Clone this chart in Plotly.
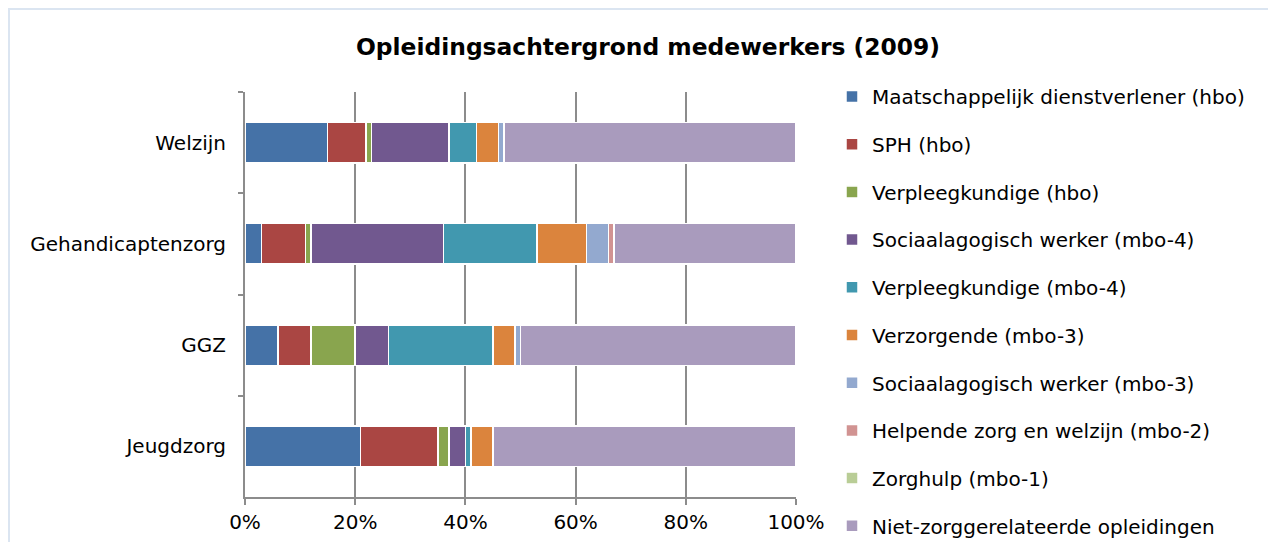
import plotly.graph_objects as go

categories = ["Welzijn", "Gehandicaptenzorg", "GGZ", "Jeugdzorg"]

series_names = [
    "Maatschappelijk dienstverlener (hbo)",
    "SPH (hbo)",
    "Verpleegkundige (hbo)",
    "Sociaalagogisch werker (mbo-4)",
    "Verpleegkundige (mbo-4)",
    "Verzorgende (mbo-3)",
    "Sociaalagogisch werker (mbo-3)",
    "Helpende zorg en welzijn (mbo-2)",
    "Zorghulp (mbo-1)",
    "Niet-zorggerelateerde opleidingen",
]

# percentages per category (Welzijn, Gehandicaptenzorg, GGZ, Jeugdzorg)
maatschappelijk = [15, 3, 6, 21]
sph = [7, 8, 6, 14]
verpleeg_hbo = [1, 1, 8, 2]
saw_mbo4 = [14, 24, 6, 3]
verpleeg_mbo4 = [5, 17, 19, 1]
verzorgende = [4, 9, 4, 4]
saw_mbo3 = [1, 4, 1, 0]
helpende = [0, 1, 0, 0]
zorghulp = [0, 0, 0, 0]
niet_zorg = [53, 33, 50, 55]

series_values = [maatschappelijk, sph, verpleeg_hbo, saw_mbo4, verpleeg_mbo4,
                 verzorgende, saw_mbo3, helpende, zorghulp, niet_zorg]

colors = ["#4572A7", "#AA4643", "#89A54E", "#71588F", "#4198AF",
          "#DB843D", "#93A9CF", "#D19392", "#B9CD96", "#A99BBD"]

x_tickvals = [0, 20, 40, 60, 80, 100]
x_ticktext = ["0%", "20%", "40%", "60%", "80%", "100%"]

FONT = "DejaVu Sans"

# figure is placed 8px from the page's top-left corner (default body margin)
W, H = 1268, 534
PL, PR, PT, PB = 237, 788, 84, 489   # plot area edges in figure pixels
PW, PH = PR - PL, PB - PT

fig = go.Figure()
for name, vals, col in zip(series_names, series_values, colors):
    fig.add_trace(go.Bar(
        y=categories, x=vals, name=name, orientation="h",
        marker=dict(color=col, line=dict(color="white", width=1.5)),
        legendgroup=name,
    ))

fig.update_layout(
    barmode="stack",
    bargap=0.6,
    width=W, height=H,
    margin=dict(l=PL, r=W - PR, t=PT, b=H - PB, autoexpand=False),
    paper_bgcolor="white", plot_bgcolor="white",
    font=dict(family=FONT, size=20, color="#000000"),
    title=dict(text="<b>Opleidingsachtergrond medewerkers (2009)</b>",
               x=640 / W, xref="container", xanchor="center",
               y=1 - 39 / H, yref="container", yanchor="middle",
               font=dict(family=FONT, size=23.4, color="#000000")),
    legend=dict(x=824 / W, xref="container", xanchor="left",
                y=1 - 69 / H, yref="container", yanchor="top",
                maxheight=H,
                traceorder="grouped", tracegroupgap=18.7,
                font=dict(family=FONT, size=20, color="#000000"),
                bgcolor="rgba(0,0,0,0)"),
    showlegend=True,
    shapes=[dict(type="rect", xref="paper", yref="paper",
                 x0=(1 - PL) / PW, x1=(1300 - PL) / PW,
                 y0=(PB - 560) / PH, y1=(PB - 1) / PH,
                 line=dict(color="#DBE5F1", width=2), layer="below")],
)

fig.update_xaxes(
    range=[0, 100], tickvals=x_tickvals, ticktext=x_ticktext,
    showgrid=True, gridcolor="#8C8C8C", gridwidth=1.5,
    showline=True, linecolor="#8C8C8C", linewidth=2,
    ticks="outside", ticklen=6, tickcolor="#8C8C8C", tickwidth=2,
    zeroline=False, fixedrange=True,
)
fig.update_yaxes(
    autorange="reversed", type="category",
    showline=True, linecolor="#8C8C8C", linewidth=2,
    ticks="outside", ticklen=5, tickcolor="#8C8C8C", tickwidth=2,
    tickson="boundaries", ticklabelstandoff=13,
    showgrid=False, fixedrange=True,
)

fig.write_html("out.html")
